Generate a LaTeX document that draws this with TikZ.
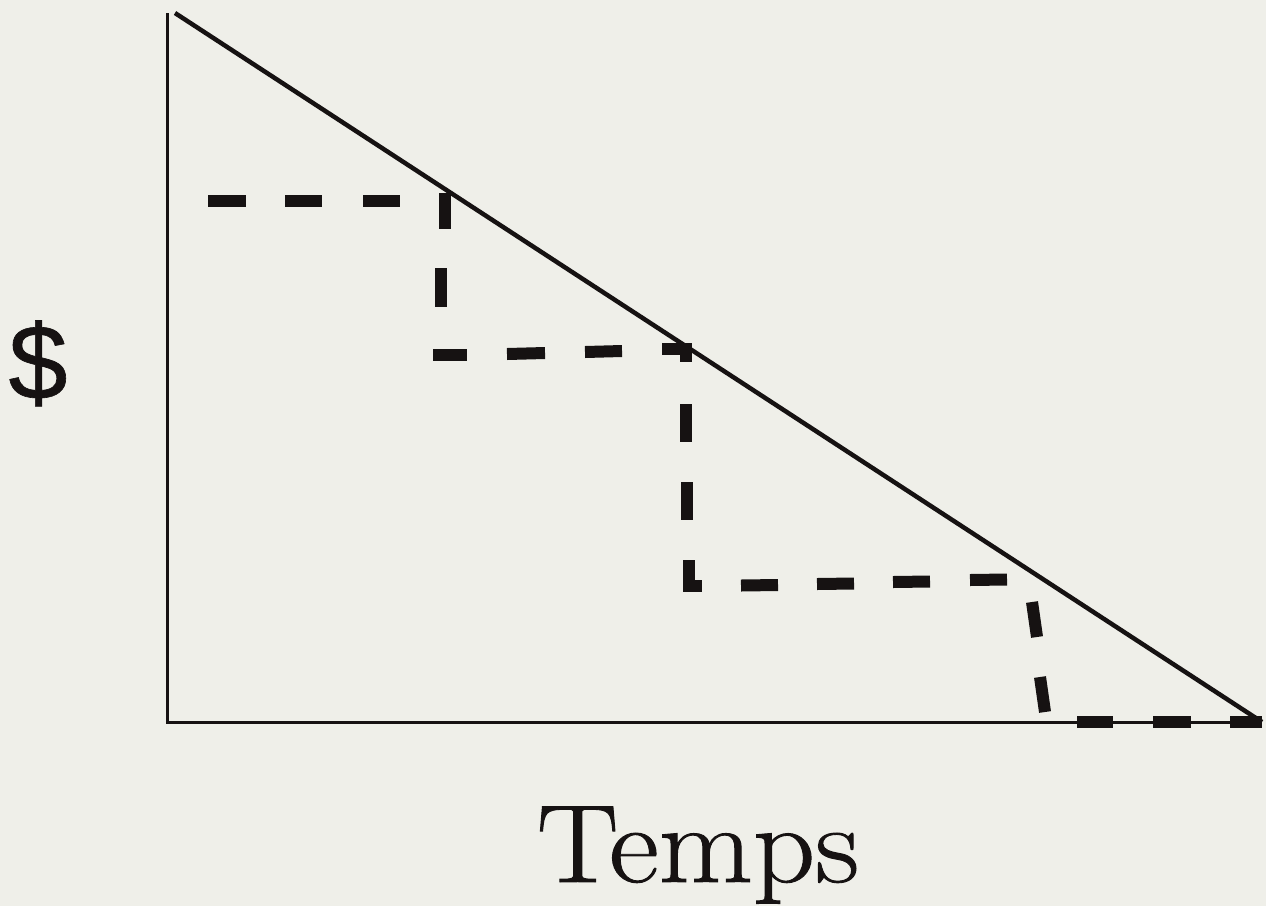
\documentclass[tikz,border=0pt]{standalone}
\usepackage{fontspec}
\newfontfamily\dollarfont{Liberation Sans}[FakeBold=0.6]
\newfontfamily\tempsfont{Latin Modern Roman}[FakeBold=0.8]
\definecolor{bg}{RGB}{239,239,233}
\definecolor{ink}{RGB}{22,18,18}
\tikzset{
  axisline/.style={draw=ink, line width=3pt, line cap=butt},
  diagline/.style={draw=ink, line width=4.5pt, line cap=butt},
  dashseg/.style={draw=ink, line width=12pt, line cap=butt, line join=miter},
  lbl/.style={text=ink, inner sep=0pt, anchor=base}
}
\begin{document}
\begin{tikzpicture}[x=1pt,y=-1pt]
\fill[bg] (0,0) rectangle (1266,906);
\useasboundingbox (0,0) rectangle (1266,906);
% axes
\coordinate (top) at (167,13);
\coordinate (origin) at (167,722);
\coordinate (xend) at (1262,722);
\coordinate (dstart) at (175,13);
\draw[axisline] (top) -- (origin) -- (xend);
% diagonal
\draw[diagline] (dstart) -- (xend);
% dashed staircase
\foreach \a/\b in {208/246, 285/322, 363/400}
  \draw[dashseg] (\a,201) -- (\b,201);
\draw[dashseg] (445,193) -- (445,229);
\draw[dashseg] (441,268) -- (441,307);
\draw[dashseg] (433,355) -- (467,355);
\draw[dashseg] (507,354) -- (545,353);
\draw[dashseg] (585,352) -- (622,351);
\draw[dashseg] (662,349) -- (686,349) -- (686,362);
\draw[dashseg] (686,404) -- (686,442);
\draw[dashseg] (687,482) -- (687,520);
\draw[dashseg] (689,560) -- (689,586) -- (702,586);
\draw[dashseg] (741,585.5) -- (778,585);
\draw[dashseg] (817,584) -- (854,583.5);
\draw[dashseg] (893,582) -- (930,581.5);
\draw[dashseg] (970,580) -- (1007,579.5);
\draw[dashseg] (1032,602) -- (1037,637);
\draw[dashseg] (1040,677) -- (1045,712);
\draw[dashseg] (1077,722) -- (1113,722);
\draw[dashseg] (1153,722) -- (1191,722);
\draw[dashseg] (1230,722) -- (1262,722);
% labels
\node[lbl] (ylabel) at (38,399) {\dollarfont\fontsize{106}{110}\selectfont \$};
\node[lbl] (xlabel) at (698,882) {\scalebox{1.1}[1]{\tempsfont\fontsize{111}{113}\selectfont Temps}};
\end{tikzpicture}
\end{document}
